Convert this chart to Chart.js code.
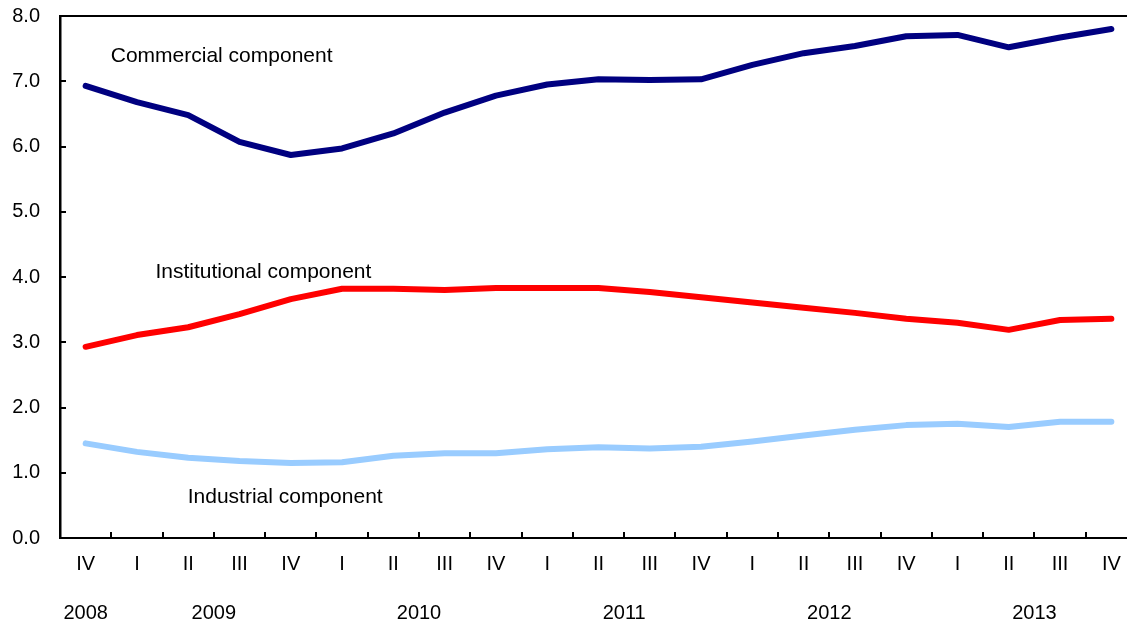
<!DOCTYPE html>
<html>
<head>
<meta charset="utf-8">
<script src="https://cdn.jsdelivr.net/npm/chart.js@4/dist/chart.umd.min.js"></script>
<style>
  html, body { margin: 0; padding: 0; background: #fff; overflow: hidden; }
  #wrap { width: 1140px; height: 623px; }
</style>
</head>
<body>
<div id="wrap"><canvas id="chart1"></canvas></div>
<script>
const quarters = ['IV', 'I', 'II', 'III', 'IV', 'I', 'II', 'III', 'IV', 'I', 'II', 'III', 'IV',
                  'I', 'II', 'III', 'IV', 'I', 'II', 'III', 'IV'];
const years = ['2008', '2009', '2010', '2011', '2012', '2013'];

const commercial = [6.93, 6.68, 6.48, 6.07, 5.87, 5.97, 6.20, 6.52, 6.78, 6.95, 7.03,
                    7.02, 7.03, 7.25, 7.43, 7.54, 7.69, 7.71, 7.52, 7.67, 7.80];
const institutional = [2.93, 3.11, 3.23, 3.43, 3.66, 3.82, 3.82, 3.80, 3.83, 3.83, 3.83,
                       3.77, 3.69, 3.61, 3.53, 3.45, 3.36, 3.30, 3.19, 3.34, 3.36];
const industrial = [1.45, 1.32, 1.23, 1.18, 1.15, 1.16, 1.26, 1.30, 1.30, 1.36, 1.39,
                    1.37, 1.40, 1.48, 1.57, 1.66, 1.73, 1.75, 1.70, 1.78, 1.78];

const FONT = 'Liberation Sans, Arial, sans-serif';

// series names placed in data space (category index, value)
const seriesLabels = [
    { text: 'Commercial component', at: [0.49, 7.39] },
    { text: 'Institutional component', at: [1.36, 4.08] },
    { text: 'Industrial component', at: [1.99, 0.63] }
];

// top frame, inward tick marks, year row and series names
const extras = {
    id: 'extras',
    afterDraw(chart) {
        const c = chart.ctx, x = chart.scales.x, y = chart.scales.y;
        const area = chart.chartArea;
        c.save();
        c.strokeStyle = '#000';
        c.lineWidth = 2;
        c.beginPath();
        c.moveTo(area.left, area.top);
        c.lineTo(area.right, area.top);
        c.stroke();
        // y ticks, pointing into the plot
        for (let v = 0; v <= 8; v++) {
            const py = Math.round(y.getPixelForValue(v));
            c.beginPath();
            c.moveTo(area.left, py);
            c.lineTo(area.left + 6, py);
            c.stroke();
        }
        // x ticks between quarters
        for (let i = 0; i < quarters.length; i++) {
            const px = Math.round(x.getPixelForValue(i + 0.5));
            c.beginPath();
            c.moveTo(px, area.bottom);
            c.lineTo(px, area.bottom - 6);
            c.stroke();
        }
        // years, centred under their quarters
        c.fillStyle = '#000';
        c.font = '20px ' + FONT;
        c.textAlign = 'center';
        c.textBaseline = 'middle';
        years.forEach((yr, k) => {
            const first = Math.max(0, 4 * k - 3);
            const last = Math.min(quarters.length - 1, 4 * k);
            const px = (x.getPixelForValue(first) + x.getPixelForValue(last)) / 2;
            c.fillText(yr, px, area.bottom + 75);
        });
        // series names
        c.font = '21px ' + FONT;
        c.textAlign = 'left';
        seriesLabels.forEach(l => {
            c.fillText(l.text, x.getPixelForValue(l.at[0]), y.getPixelForValue(l.at[1]));
        });
        c.restore();
    }
};

const ctx = document.getElementById('chart1').getContext('2d');

const line = (data, color) => ({
    data: data,
    borderColor: color,
    backgroundColor: color,
    borderWidth: 6,
    borderCapStyle: 'round',
    borderJoinStyle: 'round',
    pointRadius: 0,
    tension: 0,
    fill: false
});

const chart1 = new Chart(ctx, {
    type: 'line',
    data: {
        labels: quarters,
        datasets: [
            line(commercial, '#000080'),
            line(institutional, '#ff0000'),
            line(industrial, '#99ccff')
        ]
    },
    options: {
        responsive: true,
        maintainAspectRatio: false,
        animation: false,
        layout: { padding: { top: 16, right: 3, left: 0, bottom: 0 } },
        plugins: {
            legend: { display: false },
            tooltip: { enabled: false }
        },
        scales: {
            x: {
                offset: true,
                grid: { display: false, drawTicks: false },
                border: { display: true, color: '#000', width: 2 },
                ticks: {
                    color: '#000',
                    font: { family: FONT, size: 20 },
                    padding: 14,
                    maxRotation: 0,
                    autoSkip: false
                },
                afterFit: s => {
                    s.height = 85;
                    s.paddingLeft = 0;
                    s.paddingRight = 0;
                }
            },
            y: {
                min: 0,
                max: 8,
                grid: { display: false, drawTicks: false },
                border: { display: true, color: '#000', width: 2.5 },
                ticks: {
                    stepSize: 1,
                    color: '#000',
                    font: { family: FONT, size: 20 },
                    padding: 20,
                    callback: v => v.toFixed(1)
                },
                afterFit: s => {
                    s.width = 60;
                    s.paddingTop = 0;
                    s.paddingBottom = 0;
                }
            }
        }
    },
    plugins: [extras]
});
</script>
</body>
</html>
